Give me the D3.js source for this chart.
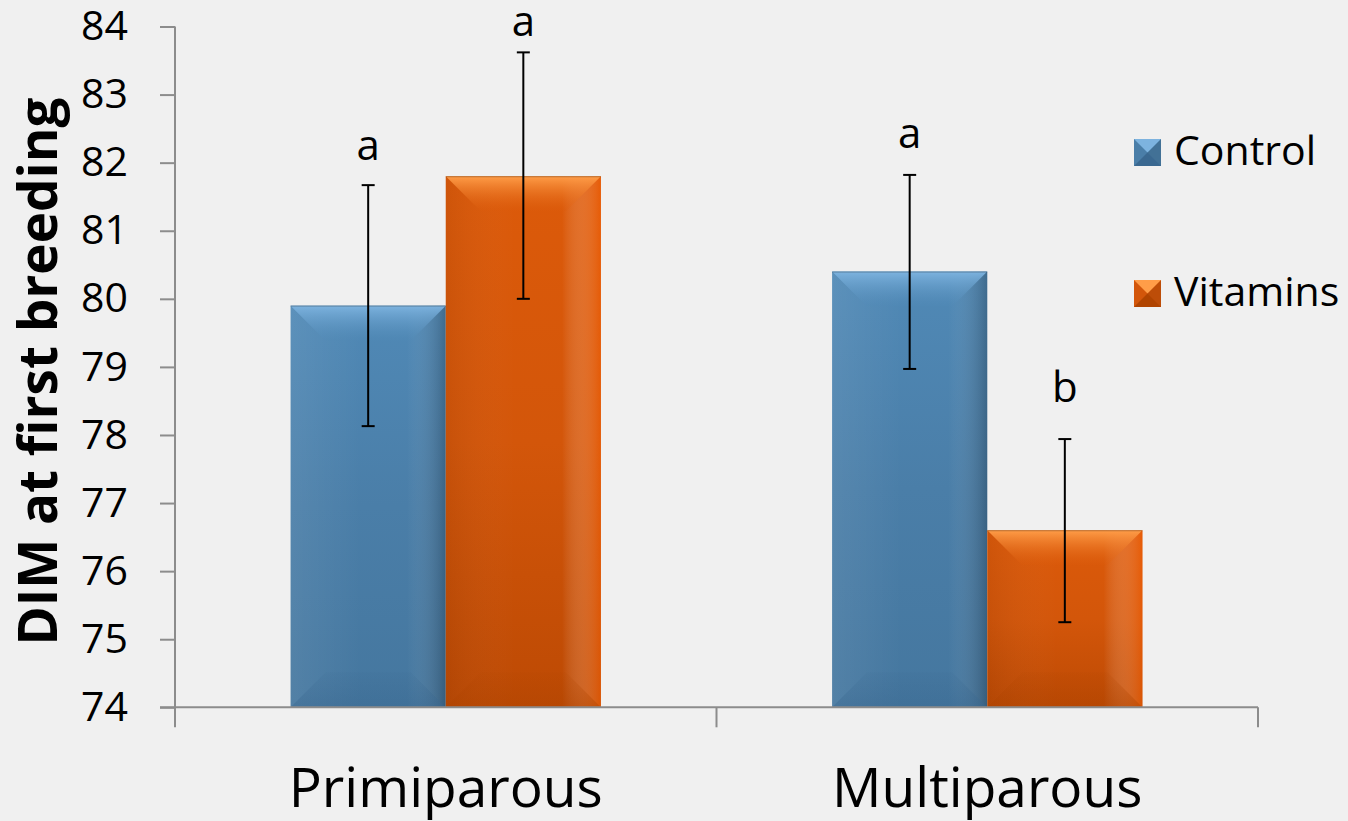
<!DOCTYPE html>
<html>
<head>
<meta charset="utf-8">
<script src="https://cdn.jsdelivr.net/npm/d3@7"></script>
<style>
  body { margin: 0; background: #f0f0f0; }
  svg { display: block; }
  text { font-family: "Open Sans", sans-serif; fill: #000; }
</style>
</head>
<body>
<script>
var w = 1348;
var h = 821;

// data
var categories = ["Primiparous", "Multiparous"];
var series = ["Control", "Vitamins"];
var means = [[79.9, 81.8], [80.4, 76.6]];
var lower = [[78.13, 80.0], [78.97, 75.25]];
var upper = [[81.67, 83.62], [81.82, 77.94]];
var letters = [["a", "a"], ["a", "b"]];
var letterAt = [[82.04, 83.86], [82.21, 78.49]];
var yTicks = [74, 75, 76, 77, 78, 79, 80, 81, 82, 83, 84];

var colors = {
  Control:  { top: "#5089b6", mid: "#4a7ea8", bot: "#45779f", hi: "#7db3df", lo: "#3a6890",
              leftCol: "#fff", left: 0.07, rightCol: "#000", right: 0.22 },
  Vitamins: { top: "#dc5a0a", mid: "#d3560a", bot: "#bd4a04", hi: "#ff9d48", lo: "#b04400",
              leftCol: "#000", left: 0.06, rightCol: "#f05c02", right: 0.55 }
};

var svg = d3.select("body")
    .append("svg")
    .attr("width", w)
    .attr("height", h);

svg.append("rect")
    .attr("width", w)
    .attr("height", h)
    .attr("fill", "#f0f0f0");

var defs = svg.append("defs");
series.forEach(function(s) {
  var c = colors[s];
  var g = defs.append("linearGradient")
      .attr("id", "body-" + s)
      .attr("x1", 0).attr("y1", 0).attr("x2", 0).attr("y2", 1);
  g.append("stop").attr("offset", "0%").attr("stop-color", c.top);
  g.append("stop").attr("offset", "50%").attr("stop-color", c.mid);
  g.append("stop").attr("offset", "100%").attr("stop-color", c.bot);

  var t = defs.append("linearGradient")
      .attr("id", "top-" + s)
      .attr("x1", 0).attr("y1", 0).attr("x2", 0).attr("y2", 1);
  t.append("stop").attr("offset", "0%").attr("stop-color", c.hi);
  t.append("stop").attr("offset", "100%").attr("stop-color", c.top).attr("stop-opacity", 0.2);

  var sh = defs.append("linearGradient")
      .attr("id", "side-" + s)
      .attr("x1", 0).attr("y1", 0).attr("x2", 1).attr("y2", 0);
  sh.append("stop").attr("offset", "0%").attr("stop-color", c.leftCol).attr("stop-opacity", c.left);
  sh.append("stop").attr("offset", "45%").attr("stop-color", "#fff").attr("stop-opacity", 0);
  sh.append("stop").attr("offset", "75%").attr("stop-color", "#fff").attr("stop-opacity", 0);
  sh.append("stop").attr("offset", "100%").attr("stop-color", c.rightCol).attr("stop-opacity", c.right);

  var bt = defs.append("linearGradient")
      .attr("id", "bot-" + s)
      .attr("x1", 0).attr("y1", 1).attr("x2", 0).attr("y2", 0);
  bt.append("stop").attr("offset", "0%").attr("stop-color", c.lo).attr("stop-opacity", 0.45);
  bt.append("stop").attr("offset", "100%").attr("stop-color", c.lo).attr("stop-opacity", 0.1);
});

var yScale = d3.scaleLinear()
    .domain([74, 84])
    .range([707.3, 26.5]);

var x0 = d3.scaleBand()
    .domain(categories)
    .range([175, 1258])
    .padding(0);

var x1 = d3.scaleBand()
    .domain(series)
    .range([0, x0.bandwidth()])
    .paddingInner(0)
    .paddingOuter(0.745);

// y axis
var yAxis = d3.axisLeft(yScale)
    .tickValues(yTicks)
    .tickSize(15)
    .tickPadding(32)
    .tickFormat(d3.format("d"));

var ya = svg.append("g")
    .attr("transform", "translate(175,0)")
    .call(yAxis);
ya.selectAll("path, line").attr("stroke", "#8c8c8c").attr("stroke-width", 2);
ya.select(".domain").attr("d", "M0," + yScale(84) + "V" + yScale(74));
ya.selectAll("text")
    .style("font-family", "'Open Sans', sans-serif")
    .style("font-size", "41px")
    .attr("fill", "#000");

// bars
var groups = svg.append("g").selectAll("g")
    .data(categories)
    .enter().append("g")
    .attr("transform", function(d) { return "translate(" + x0(d) + ",0)"; });

groups.each(function(cat, ci) {
  var g = d3.select(this);
  series.forEach(function(s, si) {
    var v = means[ci][si];
    var bx = x1(s), bw = x1.bandwidth();
    var by = yScale(v), bh = yScale(74) - yScale(v);
    var b = Math.min(35, bh / 2);

    g.append("rect")
        .attr("x", bx).attr("y", by)
        .attr("width", bw).attr("height", bh)
        .attr("fill", "url(#body-" + s + ")");
    g.append("rect")
        .attr("x", bx).attr("y", by)
        .attr("width", bw).attr("height", bh)
        .attr("fill", "url(#side-" + s + ")");

    // bevel edges
    g.append("polygon")
        .attr("points", [[bx, by], [bx + bw, by], [bx + bw - b, by + b], [bx + b, by + b]].join(" "))
        .attr("fill", "url(#top-" + s + ")");
    g.append("polygon")
        .attr("points", [[bx, by + bh], [bx + bw, by + bh], [bx + bw - b, by + bh - b], [bx + b, by + bh - b]].join(" "))
        .attr("fill", "url(#bot-" + s + ")");
    g.append("line")
        .attr("x1", bx).attr("x2", bx + bw)
        .attr("y1", by + 0.5).attr("y2", by + 0.5)
        .attr("stroke", "#000").attr("stroke-opacity", 0.25).attr("stroke-width", 1);
  });
});

// category axis
var axisY = yScale(74);
svg.append("line")
    .attr("x1", 160).attr("x2", x0.range()[1])
    .attr("y1", axisY).attr("y2", axisY)
    .attr("stroke", "#8c8c8c").attr("stroke-width", 2);

var bounds = categories.map(function(d) { return x0(d); }).concat([x0.range()[1]]);
svg.append("g").selectAll("line")
    .data(bounds)
    .enter().append("line")
    .attr("x1", function(d) { return d; })
    .attr("x2", function(d) { return d; })
    .attr("y1", axisY)
    .attr("y2", axisY + 20)
    .attr("stroke", "#8c8c8c").attr("stroke-width", 2);

svg.append("g").selectAll("text")
    .data(categories)
    .enter().append("text")
    .attr("x", function(d) { return x0(d) + x1(series[0]) + x1.bandwidth(); })
    .attr("y", 807)
    .attr("text-anchor", "middle")
    .style("font-size", "55px")
    .text(function(d) { return d; });

// error bars and letters
groups.each(function(cat, ci) {
  var g = d3.select(this);
  series.forEach(function(s, si) {
    var cx = x1(s) + x1.bandwidth() / 2;
    var yl = yScale(lower[ci][si]), yu = yScale(upper[ci][si]);
    g.append("line")
        .attr("x1", cx).attr("x2", cx)
        .attr("y1", yl).attr("y2", yu)
        .attr("stroke", "#000").attr("stroke-width", 2);
    [yl, yu].forEach(function(yy) {
      g.append("line")
          .attr("x1", cx - 6.5).attr("x2", cx + 6.5)
          .attr("y1", yy).attr("y2", yy)
          .attr("stroke", "#000").attr("stroke-width", 2);
    });
    g.append("text")
        .attr("x", cx)
        .attr("y", yScale(letterAt[ci][si]))
        .attr("text-anchor", "middle")
        .style("font-size", "42px")
        .text(letters[ci][si]);
  });
});

// y title
svg.append("text")
    .attr("transform", "translate(57," + ((643 + 100) / 2) + ") rotate(-90)")
    .attr("text-anchor", "middle")
    .style("font-size", "53px")
    .style("font-weight", "bold")
    .text("DIM at first breeding");

// legend
var legend = svg.append("g").selectAll("g")
    .data(series)
    .enter().append("g")
    .attr("transform", function(d, i) { return "translate(1134," + (139 + i * 141) + ")"; });

legend.each(function(s) {
  var g = d3.select(this);
  var c = colors[s];
  var q = 27, b = 13.5;
  g.append("rect").attr("width", q).attr("height", q).attr("fill", c.mid);
  g.append("polygon").attr("points", [[0, 0], [q, 0], [q - b, b], [b, b]].join(" ")).attr("fill", c.hi);
  g.append("polygon").attr("points", [[0, q], [q, q], [q - b, b], [b, b]].join(" ")).attr("fill", c.lo);
  g.append("polygon").attr("points", [[q, 0], [q, q], [b, b]].join(" ")).attr("fill", "#000").attr("fill-opacity", 0.1);
  g.append("text")
      .attr("x", 40)
      .attr("y", 26)
      .style("font-size", "41px")
      .text(s);
});
</script>
</body>
</html>
